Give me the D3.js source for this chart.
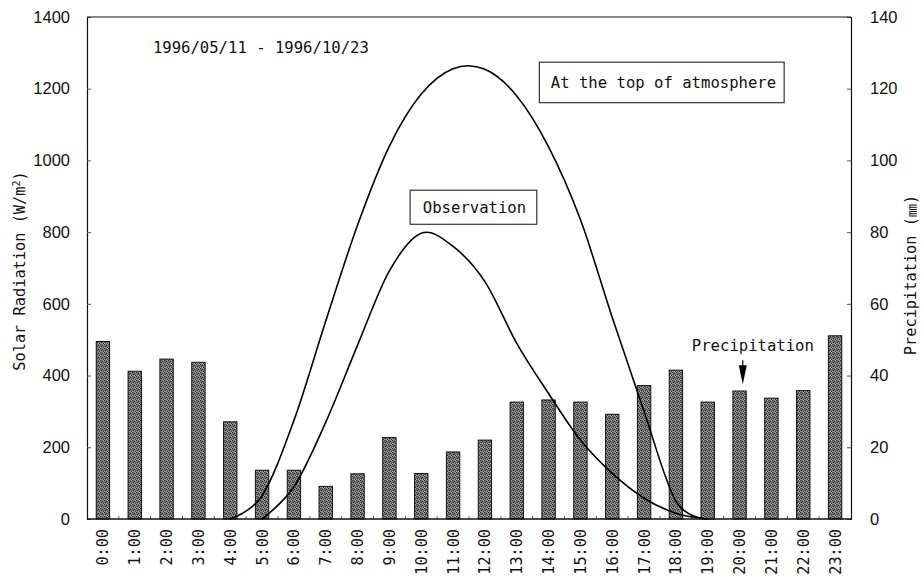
<!DOCTYPE html>
<html><head><meta charset="utf-8">
<script src="https://cdn.jsdelivr.net/npm/d3@7"></script>
<style>body{margin:0;background:#fff}</style>
</head><body>
<svg id="c" width="922" height="576"></svg>
<script>
// ---- data ----
const hours = ["0:00","1:00","2:00","3:00","4:00","5:00","6:00","7:00","8:00","9:00","10:00","11:00",
  "12:00","13:00","14:00","15:00","16:00","17:00","18:00","19:00","20:00","21:00","22:00","23:00"];
const precipitation = [49.5,41.2,44.6,43.7,27.1,13.6,13.6,9.1,12.6,22.7,12.7,18.7,
  22.0,32.6,33.2,32.6,29.2,37.2,41.5,32.6,35.7,33.7,35.8,51.1];
const toaHours  = [4,5,6,7,8,9,10,11,12,13,14,15,16,17,18,19];
const toaValues = [0,65,275,552,820,1040,1185,1256,1254,1180,1038,835,562,300,50,0];
const obsHours  = [5,6,7,8,9,10,11,12,13,14,15,16,17,18,19];
const obsValues = [0,90,270,485,692,797,760,662,490,350,220,127,58,16,0];
const radTicks  = [0,200,400,600,800,1000,1200,1400];
const precTicks = [0,20,40,60,80,100,120,140];
const dateLabel = "1996/05/11 - 1996/10/23";
const toaLabel = "At the top of atmosphere";
const obsLabel = "Observation";
const precLabel = "Precipitation";

// ---- layout ----
const W = 922, H = 576;
const m = {left: 87, right: 71, top: 17, bottom: 57};
const x0 = m.left, x1 = W - m.right, y0 = H - m.bottom, y1 = m.top;

const svg = d3.select("#c");
const x = d3.scaleBand().domain(hours).range([x0, x1]).paddingInner(0.58).paddingOuter(0.29);
const xh = d3.scaleLinear().domain([-0.5, 23.5]).range([x0, x1]);
const yL = d3.scaleLinear().domain([0, 1400]).range([y0, y1]);
const yR = d3.scaleLinear().domain([0, 140]).range([y0, y1]);

const mono = "'DejaVu Sans Mono', 'Liberation Mono', monospace";
const sans = "'Liberation Sans', Arial, sans-serif";

// stipple pattern for bars
const defs = svg.append("defs");
const pat = defs.append("pattern").attr("id","stip").attr("width",4).attr("height",4)
  .attr("patternUnits","userSpaceOnUse");
pat.append("rect").attr("width",4).attr("height",4).attr("fill","#747474");
[[0,0],[2,1],[1,2],[3,3],[3,0],[0,3],[2,3]].forEach(([px,py],k) =>
  pat.append("rect").attr("x",px).attr("y",py).attr("width",1).attr("height",1)
     .attr("fill", k < 4 ? "#2e2e2e" : "#a4a4a4"));

// bars
svg.append("g").selectAll("rect").data(precipitation).join("rect")
  .attr("x", (d,i) => x(hours[i]))
  .attr("y", d => yR(d))
  .attr("width", x.bandwidth())
  .attr("height", d => yR(0) - yR(d))
  .attr("fill", "url(#stip)")
  .attr("stroke", "#111").attr("stroke-width", 1);

// axes
const axL = d3.axisLeft(yL).tickValues(radTicks).tickSize(-4).tickPadding(17).tickFormat(d3.format("d"));
const axR = d3.axisRight(yR).tickValues(precTicks).tickSize(-4).tickPadding(19).tickFormat(d3.format("d"));
const gL = svg.append("g").attr("transform",`translate(${x0},0)`).call(axL);
const gR = svg.append("g").attr("transform",`translate(${x1},0)`).call(axR);
[gL,gR].forEach(g => {
  g.select(".domain").attr("stroke","#111").attr("stroke-width",1.2);
  g.selectAll(".tick line").attr("stroke","#555");
  g.selectAll(".tick text").attr("font-family",sans).attr("font-size",16.5).attr("fill","#111");
});

// x axis
const gB = svg.append("g").attr("transform",`translate(0,${y0})`)
  .call(d3.axisBottom(x).tickSize(0).tickPadding(0));
gB.select(".domain").remove();
gB.selectAll(".tick text")
  .attr("font-family", mono).attr("font-size", 15.2).attr("fill","#111")
  .attr("transform","rotate(-90)")
  .attr("text-anchor","end")
  .attr("x", -10).attr("y", 0).attr("dy","0.36em");
// boundary ticks (inward)
svg.append("g").selectAll("line").data(d3.range(1,24)).join("line")
  .attr("x1", d => xh(d - 0.5)).attr("x2", d => xh(d - 0.5))
  .attr("y1", y0).attr("y2", y0 - 3).attr("stroke","#666").attr("stroke-width",1);
// frame top / bottom
svg.append("line").attr("x1",x0).attr("x2",x1).attr("y1",y1).attr("y2",y1).attr("stroke","#111").attr("stroke-width",1.2);
svg.append("line").attr("x1",x0).attr("x2",x1).attr("y1",y0).attr("y2",y0).attr("stroke","#111").attr("stroke-width",1.4);

// curves
const line = d3.line().x(d => xh(d[0])).y(d => yL(d[1])).curve(d3.curveCatmullRom.alpha(0));
svg.append("path").datum(toaHours.map((h,i)=>[h,toaValues[i]]))
  .attr("d", line).attr("fill","none").attr("stroke","#000").attr("stroke-width",1.6);
svg.append("path").datum(obsHours.map((h,i)=>[h,obsValues[i]]))
  .attr("d", line).attr("fill","none").attr("stroke","#000").attr("stroke-width",1.6);

// axis titles
svg.append("text")
  .attr("transform",`translate(${20},${(y0+y1)/2 + 3}) rotate(-90)`)
  .attr("text-anchor","middle").attr("dy","0.35em")
  .attr("font-family",mono).attr("font-size",15.3).attr("fill","#111")
  .call(t => { t.append("tspan").text("Solar Radiation (W/m");
               t.append("tspan").attr("baseline-shift","super").attr("font-size",10).text("2");
               t.append("tspan").text(")"); });
svg.append("text")
  .attr("transform",`translate(${911},${(y0+y1)/2 + 7}) rotate(-90)`)
  .attr("text-anchor","middle").attr("dy","0.35em")
  .attr("font-family",mono).attr("font-size",15.3).attr("fill","#111")
  .call(t => { t.append("tspan").text("Precipitation (");
               t.append("tspan").attr("font-family","'Noto Sans CJK JP', sans-serif").attr("font-size",13).text("㎜");
               t.append("tspan").text(")"); });

// annotations (positions in data units)
const annFont = 15.6;
svg.append("text").attr("x", xh(1.57)).attr("y", yL(1300))
  .attr("font-family",mono).attr("font-size",annFont).attr("fill","#111").text(dateLabel);

function boxLabel(txt, h0, h1, vTop, vBot, th, tv) {
  svg.append("rect").attr("x", xh(h0)).attr("y", yL(vTop))
    .attr("width", xh(h1) - xh(h0)).attr("height", yL(vBot) - yL(vTop))
    .attr("fill","#fff").attr("stroke","#222").attr("stroke-width",1.1);
  svg.append("text").attr("x", xh(th)).attr("y", yL(tv))
    .attr("font-family",mono).attr("font-size",annFont).attr("fill","#111").text(txt);
}
boxLabel(toaLabel, 13.71, 21.4, 1274, 1161, 14.07, 1201);
boxLabel(obsLabel, 9.65, 13.63, 917, 822, 10.05, 853);

svg.append("text").attr("x", xh(18.5)).attr("y", yR(46.85))
  .attr("font-family",mono).attr("font-size",annFont).attr("fill","#111").text(precLabel);
// arrow
const ax = xh(20.1), aTop = yR(44.3), aTip = yR(37.6);
svg.append("line").attr("x1",ax).attr("x2",ax).attr("y1",aTop).attr("y2",aTip-10)
  .attr("stroke","#000").attr("stroke-width",1.2);
svg.append("path").attr("d", `M${ax-4},${aTip-19}L${ax+4},${aTip-19}L${ax},${aTip}Z`).attr("fill","#000");
</script>
</body></html>
